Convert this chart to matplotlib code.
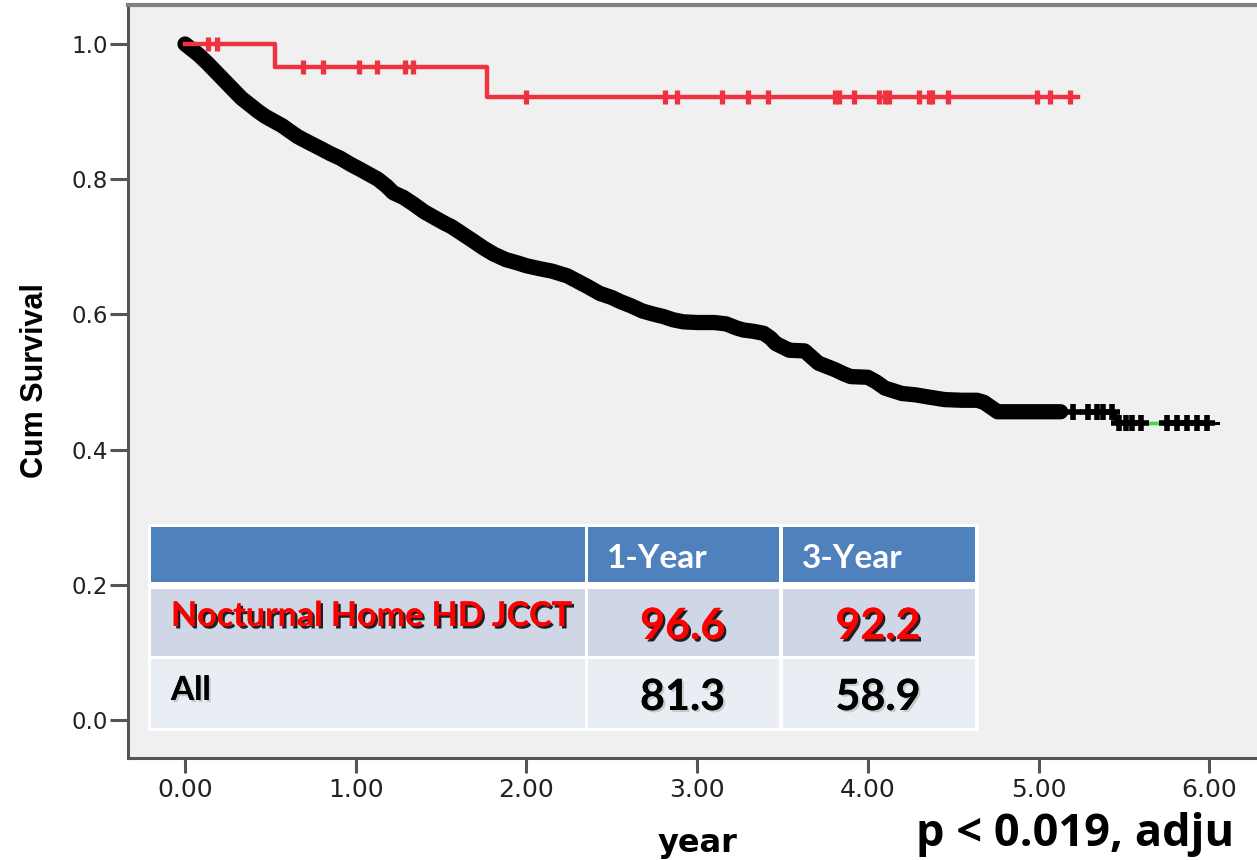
import numpy as np
import matplotlib.pyplot as plt
from matplotlib.patches import Rectangle
import matplotlib.patheffects as pe

# Nocturnal home HD JCCT group (red), Kaplan-Meier steps
noc_t = [0.0, 0.53, 1.77, 5.23]
noc_s = [1.0, 0.966, 0.922, 0.922]
noc_cens = [0.135, 0.187, 0.69, 0.81, 1.02, 1.125, 1.29, 1.335, 1.995, 2.81, 2.885,
            3.143, 3.30, 3.417, 3.81, 3.83, 3.92, 4.063, 4.10, 4.125, 4.297, 4.359,
            4.378, 4.469, 4.99, 5.07, 5.185]

# all patients (black)
all_t = [0.00, 0.04, 0.08, 0.13, 0.18, 0.23, 0.28, 0.33, 0.38, 0.43, 0.47, 0.52, 0.57,
         0.62, 0.66, 0.72, 0.79, 0.85, 0.91, 0.97, 1.03, 1.08, 1.13, 1.18, 1.22, 1.28,
         1.34, 1.40, 1.47, 1.52, 1.56, 1.62, 1.68, 1.75, 1.81, 1.88, 1.95, 2.00, 2.07,
         2.15, 2.24, 2.30, 2.36, 2.43, 2.50, 2.55, 2.61, 2.68, 2.75, 2.80, 2.86, 2.92,
         3.00, 3.10, 3.17, 3.23, 3.27, 3.33, 3.39, 3.43, 3.46, 3.50, 3.54, 3.63, 3.67,
         3.71, 3.76, 3.81, 3.86, 3.90, 4.00, 4.05, 4.10, 4.15, 4.20, 4.28, 4.35, 4.45,
         4.55, 4.64, 4.68, 4.72, 4.76, 4.90, 5.13, 5.45, 5.45, 6.05]
all_s = [1.000, 0.992, 0.984, 0.972, 0.959, 0.946, 0.933, 0.920, 0.910, 0.900, 0.893,
         0.886, 0.879, 0.870, 0.863, 0.855, 0.846, 0.838, 0.831, 0.822, 0.814, 0.807,
         0.800, 0.790, 0.780, 0.773, 0.763, 0.752, 0.742, 0.735, 0.730, 0.720, 0.710,
         0.698, 0.689, 0.681, 0.676, 0.672, 0.668, 0.664, 0.657, 0.649, 0.641, 0.631,
         0.625, 0.619, 0.613, 0.605, 0.600, 0.597, 0.592, 0.589, 0.588, 0.588, 0.586,
         0.580, 0.577, 0.575, 0.572, 0.565, 0.557, 0.552, 0.547, 0.546, 0.537, 0.528,
         0.523, 0.518, 0.512, 0.508, 0.507, 0.500, 0.491, 0.487, 0.483, 0.481, 0.478,
         0.474, 0.473, 0.473, 0.470, 0.463, 0.456, 0.456, 0.456, 0.456, 0.439, 0.439]
all_cens = [5.20, 5.29, 5.34, 5.38, 5.43, 5.47, 5.51, 5.55, 5.60, 5.75, 5.81, 5.87,
            5.93, 5.99]

# third (green) group only shows through in the tail
other_t = [5.60, 5.75]
other_s = [0.439, 0.439]

col_labels = ['', '1-Year', '3-Year']
row_labels = ['Nocturnal Home HD JCCT', 'All']
table_vals = [['96.6', '92.2'], ['81.3', '58.9']]

x_ticks = [0, 1, 2, 3, 4, 5, 6]
y_ticks = [0.0, 0.2, 0.4, 0.6, 0.8, 1.0]

RED = '#ee3340'
SPINE = '#555555'

fig = plt.figure(figsize=(12.57, 8.6), dpi=100)
ax = fig.add_axes([128 / 1257, 102 / 860, 1129 / 1257, 753 / 860])
ax.set_facecolor('#f0f0f0')
ax.set_xlim(-0.334, 6.28)
ax.set_ylim(-0.0562, 1.0577)

# black curve: thick band where censor marks are dense, thin tail with marks
all_t_arr = np.array(all_t)
all_s_arr = np.array(all_s)
band = all_t_arr <= 5.13
tail = all_t_arr >= 5.13
ax.plot(all_t_arr[band], all_s_arr[band], color='black', lw=11,
        solid_joinstyle='round', solid_capstyle='round', zorder=3)
ax.plot(all_t_arr[tail], all_s_arr[tail], color='black', lw=2.2, zorder=3)
ax.plot(other_t, other_s, color='#3cdc3c', lw=2.5, zorder=4)
ax.plot(all_cens, np.interp(all_cens, all_t, all_s), ls='none', marker='+',
        ms=11, mew=4, color='black', zorder=5)

# red curve
ax.step(noc_t, noc_s, where='post', color=RED, lw=3.2, zorder=6)
idx = np.searchsorted(noc_t, noc_cens, side='right') - 1
ax.plot(noc_cens, np.array(noc_s)[idx], ls='none', marker='|', ms=10.5, mew=3.8,
        color=RED, zorder=6)

# axes styling
ax.spines['right'].set_visible(False)
ax.spines['top'].set_color('#808080')
ax.spines['top'].set_linewidth(3)
for side in ['left', 'bottom']:
    ax.spines[side].set_color(SPINE)
    ax.spines[side].set_linewidth(2.2)

ax.set_xticks(x_ticks)
ax.set_xticklabels(['%.2f' % v for v in x_ticks])
ax.set_yticks(y_ticks)
ax.set_yticklabels(['%.1f' % v for v in y_ticks])
ax.tick_params(axis='x', direction='out', length=11, width=2.2, color=SPINE,
               labelsize=18, pad=3.5, labelcolor='#222222')
ax.tick_params(axis='y', direction='out', length=13, width=2.2, color=SPINE,
               labelsize=16.5, pad=1.5, labelcolor='#222222')

ax.set_xlabel('year', fontsize=23, fontweight='bold', va='baseline')
ax.xaxis.set_label_coords(0.504, (758 - 852) / 753)
ax.set_ylabel('Cum Survival', family='Liberation Sans', fontsize=22,
              fontweight='bold', va='baseline')
ax.yaxis.set_label_coords((43 - 128) / 1129, (758 - 381) / 753)


# table, laid out in image pixels
def px_x(px):
    return (px - 128) / 1129


def px_y(py):
    return (758 - py) / 753


def cell(x0, y0, x1, y1, color):
    ax.add_patch(Rectangle((px_x(x0), px_y(y1)), px_x(x1) - px_x(x0),
                           px_y(y0) - px_y(y1), transform=ax.transAxes,
                           facecolor=color, edgecolor='none', zorder=7))


cell(148, 524, 979, 731, 'white')
col_x = [(151, 585), (588, 779), (783, 975)]
row_y = [(527, 582), (589, 656), (659, 728)]
row_colors = ['#4f81bd', '#cfd7e7', '#e9edf4']
for r, (y0, y1) in enumerate(row_y):
    for x0, x1 in col_x:
        cell(x0, y0, x1, y1, row_colors[r])

tbl_font = dict(family='Lato', fontweight='bold', transform=ax.transAxes, zorder=8)
red_shadow = [pe.withSimplePatchShadow(offset=(1.8, -1.8), shadow_rgbFace='black', alpha=0.85),
              pe.Normal()]
light_shadow = [pe.withSimplePatchShadow(offset=(1.5, -1.5), shadow_rgbFace='#b0b0b0', alpha=0.6),
                pe.Normal()]

ax.text(px_x(607), px_y(568), col_labels[1], color='white', fontsize=24,
        va='baseline', ha='left', **tbl_font)
ax.text(px_x(802), px_y(568), col_labels[2], color='white', fontsize=24,
        va='baseline', ha='left', **tbl_font)

ax.text(px_x(171), px_y(626), row_labels[0], color='#ff0000', fontsize=24.5,
        va='baseline', ha='left', path_effects=red_shadow, **tbl_font)
ax.text(px_x(171), px_y(700), row_labels[1], color='black', fontsize=24,
        va='baseline', ha='left', path_effects=light_shadow, **tbl_font)

val_y = [639, 710]
val_colors = ['#ff0000', 'black']
val_fx = [red_shadow, light_shadow]
for r in range(2):
    for c, (x0, x1) in enumerate(col_x[1:]):
        ax.text(px_x((x0 + x1) / 2 - 1), px_y(val_y[r]), table_vals[r][c],
                color=val_colors[r], fontsize=31, va='baseline', ha='center',
                path_effects=val_fx[r], **tbl_font)

# p-value note, as much of it as the source slide shows
fig.text(916 / 1257, 1 - 846 / 860, 'p < 0.019, adju', family='Open Sans',
         fontweight='bold', fontsize=32.5, va='baseline', ha='left')

fig.savefig('out.png', dpi=100)
